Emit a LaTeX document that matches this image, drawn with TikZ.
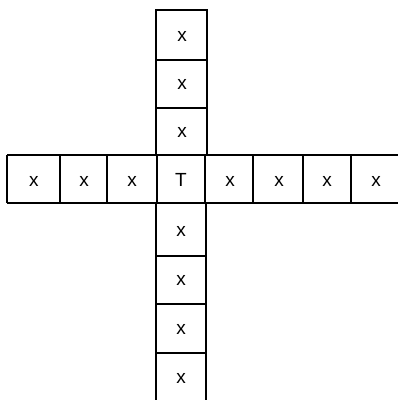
\documentclass[tikz,border=0pt]{standalone}
\usepackage{fontspec}
\setmainfont{Liberation Sans}
\begin{document}
\begin{tikzpicture}[x=1pt,y=-1pt,
  rule/.style={line width=1.8pt,black},
  lbl/.style={inner sep=0pt,font=\fontsize{19}{22}\selectfont}]
\useasboundingbox (0,0) rectangle (398,400);
% horizontal row
\draw[rule] (7,155) -- (398,155);
\draw[rule] (7,203) -- (398,203);
\foreach \xx in {7,60,107,157,205,253,303,351}
  \draw[rule] (\xx,155) -- (\xx,203);
% upper column
\draw[rule] (156,155) -- (156,10) -- (207,10) -- (207,155);
\foreach \yy in {60,108}
  \draw[rule] (156,\yy) -- (207,\yy);
% lower column
\draw[rule] (156,203) -- (156,400);
\draw[rule] (206,203) -- (206,400);
\foreach \yy in {256,304,353}
  \draw[rule] (156,\yy) -- (206,\yy);
% labels in the row
\node[lbl] (r1) at (34,181) {x};
\node[lbl] (r2) at (84,181) {x};
\node[lbl] (r3) at (132,181) {x};
\node[lbl] (t)  at (181,180) {T};
\node[lbl] (r5) at (230,181) {x};
\node[lbl] (r6) at (279,181) {x};
\node[lbl] (r7) at (327,181) {x};
\node[lbl] (r8) at (376,181) {x};
% labels in the column
\node[lbl] (u1) at (182,36) {x};
\node[lbl] (u2) at (182,84) {x};
\node[lbl] (u3) at (182,132) {x};
\node[lbl] (d1) at (181,231) {x};
\node[lbl] (d2) at (181,280) {x};
\node[lbl] (d3) at (181,329) {x};
\node[lbl] (d4) at (181,378) {x};
\end{tikzpicture}
\end{document}
